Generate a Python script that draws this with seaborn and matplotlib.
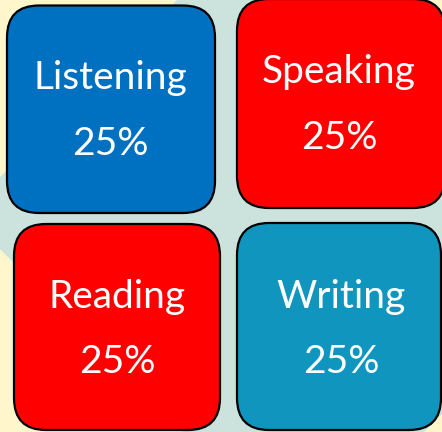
#!/usr/bin/env python3
# coding=utf-8

from matplotlib import pyplot as plt
from matplotlib.patches import FancyBboxPatch, Polygon
import seaborn as sns

# data
skills = ['Listening', 'Speaking', 'Reading', 'Writing']
shares = [25, 25, 25, 25]
colors = ['#0070C0', '#FF0000', '#FF0000', '#1096BE']

# layout in pixels (x0, y0, x1, y1), y grows downwards
boxes = [(7, 5.5, 215, 213), (237, -1, 445, 208),
         (14, 224, 220, 430), (237, 223, 441, 430)]
# baselines of the two text lines
baselines = [(89, 155), (83, 149), (308, 373), (308, 373)]
text_x = [110, 339, 117, 341]

sns.set_theme(style='white')
plt.rcParams['font.family'] = ['Lato', 'DejaVu Sans']

fig = plt.figure(figsize=(4.42, 4.32), dpi=100)
ax = fig.add_axes([0, 0, 1, 1])
ax.set_xlim(0, 442)
ax.set_ylim(432, 0)
ax.set_axis_off()

# background: pale yellow with a teal diamond in the middle
fig.patch.set_facecolor('#FFF6CC')
diamond = Polygon([(303, -126), (643, 213), (303, 553), (-36, 213)],
                  closed=True, facecolor='#CCE2DC', edgecolor='none', zorder=0)
ax.add_patch(diamond)

for i, skill in enumerate(skills):
    x0, y0, x1, y1 = boxes[i]
    patch = FancyBboxPatch((x0, y0), x1 - x0, y1 - y0,
                           boxstyle='round,pad=0,rounding_size=32',
                           facecolor=colors[i], edgecolor='black',
                           linewidth=1.6, zorder=2)
    ax.add_patch(patch)
    b1, b2 = baselines[i]
    ax.text(text_x[i], b1, skill, color='white', fontsize=28,
            ha='center', va='baseline', zorder=3)
    ax.text(text_x[i], b2, '{}%'.format(shares[i]), color='white',
            fontsize=28, ha='center', va='baseline', zorder=3)

plt.savefig('out.png', dpi=100)
